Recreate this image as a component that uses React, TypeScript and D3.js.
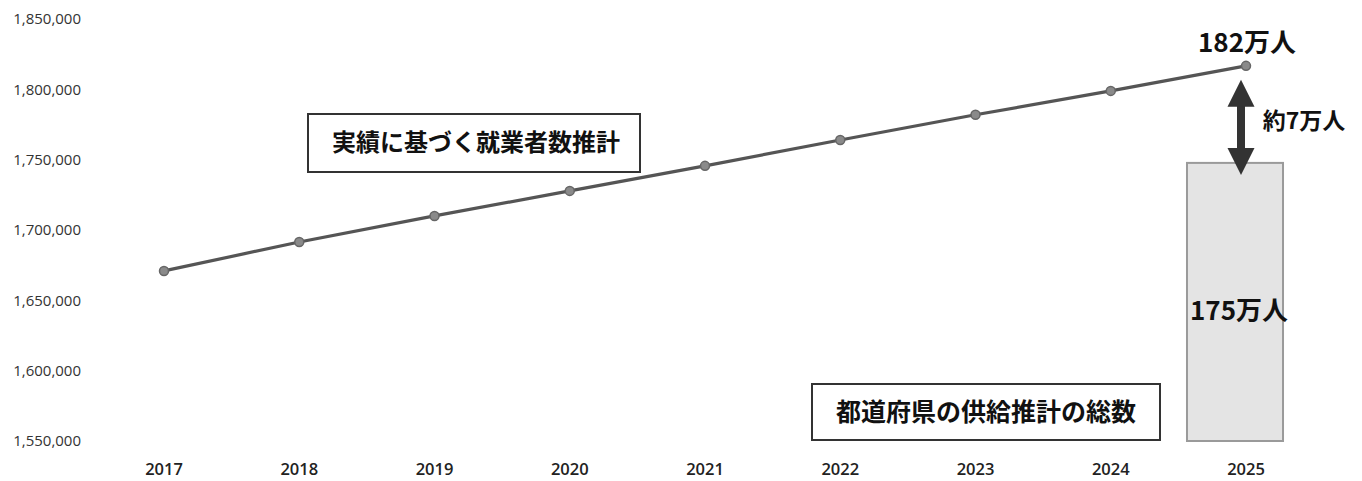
import React from "react";
import * as d3 from "d3";

const years = ["2017", "2018", "2019", "2020", "2021", "2022", "2023", "2024", "2025"];
const workers = [1670900, 1691500, 1710000, 1727800, 1745600, 1764000, 1781900, 1798900, 1816700];
const supplyYear = "2025";
const supplyTotal = 1747700;
const yTicks = [1550000, 1600000, 1650000, 1700000, 1750000, 1800000, 1850000];
const lineLabel = "実績に基づく就業者数推計";
const barLabel = "都道府県の供給推計の総数";
const topLabel = "182万人";
const gapLabel = "約7万人";
const supplyLabel = "175万人";

const W = 1362;
const H = 481;
const FONT = "'Open Sans', 'Noto Sans', sans-serif";
const JP = "'Noto Sans CJK JP', 'Noto Sans', sans-serif";

export default function App() {
  const x = d3.scalePoint<string>().domain(years).range([164, 1246]);
  const y = d3.scaleLinear().domain([1550000, 1850000]).range([441, 19]);
  const fmt = d3.format(",");
  const line = d3
    .line<number>()
    .x((_, i) => x(years[i])!)
    .y((d) => y(d));
  const step = x.step();
  const bx = x(supplyYear)!;
  const barW = step * 0.71;
  const barCx = bx - 11;
  const lastY = y(workers[workers.length - 1]);
  const barTop = y(supplyTotal);
  const arrowX = bx - 5;
  const a1 = lastY + 14;
  const a2 = barTop + 12;
  const hw = 13.5;
  const hl = 27;
  return (
    <svg width={W} height={H} style={{ position: "absolute", left: 0, top: 0, background: "#fff" }}>
      {yTicks.map((t) => (
        <text key={t} x={81} y={y(t)} dy="0.35em" textAnchor="end" fontFamily={FONT} fontSize={15} fill="#333">
          {fmt(t)}
        </text>
      ))}
      {years.map((yr) => (
        <text key={yr} x={x(yr)!} y={469} dy="0.35em" textAnchor="middle" fontFamily={FONT} fontSize={16.5} fontWeight={600} fill="#222">
          {yr}
        </text>
      ))}
      <rect
        x={barCx - barW / 2}
        y={barTop}
        width={barW}
        height={y(1550000) - barTop}
        fill="#e4e4e4"
        stroke="#9a9a9a"
        strokeWidth={2}
      />
      <path d={line(workers)!} fill="none" stroke="#555" strokeWidth={3.2} />
      {workers.map((v, i) => (
        <circle key={i} cx={x(years[i])!} cy={y(v)} r={4.5} fill="#8a8a8a" stroke="#666" strokeWidth={1.5} />
      ))}
      <line x1={arrowX} x2={arrowX} y1={a1 + hl - 2} y2={a2 - hl + 2} stroke="#333" strokeWidth={8} />
      <path d={`M${arrowX},${a1} L${arrowX - hw},${a1 + hl} L${arrowX + hw},${a1 + hl} Z`} fill="#333" />
      <path d={`M${arrowX},${a2} L${arrowX - hw},${a2 - hl} L${arrowX + hw},${a2 - hl} Z`} fill="#333" />
      <text x={1247} y={43} dy="0.35em" textAnchor="middle" fontFamily={JP} fontWeight="bold" fontSize={26} fill="#111">
        {topLabel}
      </text>
      <text x={1304} y={121} dy="0.35em" textAnchor="middle" fontFamily={JP} fontWeight="bold" fontSize={23} fill="#111">
        {gapLabel}
      </text>
      <text x={1239} y={311} dy="0.35em" textAnchor="middle" fontFamily={JP} fontWeight="bold" fontSize={26} fill="#111">
        {supplyLabel}
      </text>
      <rect x={308} y={114} width={332} height={58} fill="#fff" stroke="#333" strokeWidth={2} />
      <text x={476} y={143} dy="0.35em" textAnchor="middle" fontFamily={JP} fontWeight="bold" fontSize={24} fill="#111">
        {lineLabel}
      </text>
      <rect x={812} y={384} width={348} height={56} fill="#fff" stroke="#333" strokeWidth={2} />
      <text x={986} y={412} dy="0.35em" textAnchor="middle" fontFamily={JP} fontWeight="bold" fontSize={25} fill="#111">
        {barLabel}
      </text>
    </svg>
  );
}
